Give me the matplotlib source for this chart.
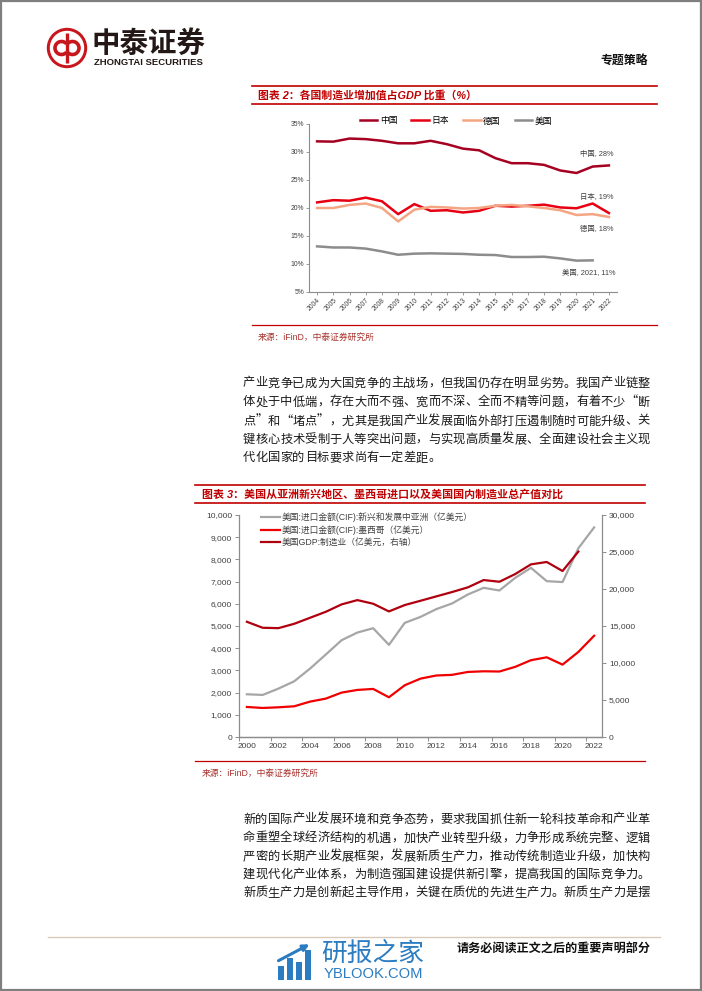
"""
plot.py
Recreates a Zhongtai Securities report page with two line charts
(manufacturing share of GDP; US imports vs. US manufacturing GDP).

Output: out.png (702x991)
"""

import numpy as np
import matplotlib
matplotlib.use("Agg")
import matplotlib.pyplot as plt
from matplotlib.patches import Circle, Rectangle, Arc
from matplotlib.ticker import FuncFormatter, FixedLocator

plt.rcParams["font.family"] = ["Liberation Sans", "Noto Sans CJK SC"]
plt.rcParams["axes.unicode_minus"] = False

W, H = 702, 991
CJK = ["Noto Sans CJK SC", "DejaVu Sans"]

# ---------------------------------------------------------------------------
# Chart 2 data: manufacturing value added, % of GDP
# ---------------------------------------------------------------------------
YEARS_1 = ["2004", "2005", "2006", "2007", "2008", "2009", "2010", "2011", "2012",
           "2013", "2014", "2015", "2016", "2017", "2018", "2019", "2020", "2021", "2022"]
CHINA = [31.9, 31.85, 32.4, 32.3, 32.0, 31.55, 31.55, 32.0, 31.4, 30.6,
         30.3, 28.9, 28.0, 28.0, 27.7, 26.7, 26.25, 27.4, 27.6]
JAPAN = [21.0, 21.4, 21.3, 21.85, 21.2, 18.9, 20.7, 19.5, 19.6, 19.2,
         19.5, 20.4, 20.25, 20.4, 20.6, 20.1, 19.95, 20.8, 19.1]
GERMANY = [20.0, 20.0, 20.55, 20.8, 20.0, 17.6, 19.7, 20.2, 20.1, 19.9,
           20.0, 20.4, 20.55, 20.3, 20.0, 19.6, 18.75, 18.9, 18.4]
USA = [13.15, 12.95, 12.95, 12.75, 12.25, 11.65, 11.85, 11.9, 11.85, 11.8,
       11.65, 11.6, 11.25, 11.25, 11.3, 11.0, 10.6, 10.65, np.nan]
Y_TICKS_1 = [5, 10, 15, 20, 25, 30, 35]

# ---------------------------------------------------------------------------
# Chart 3 data: US imports (left axis) and US manufacturing GDP (right axis)
# ---------------------------------------------------------------------------
YEARS_3 = ["2000", "2001", "2002", "2003", "2004", "2005", "2006", "2007", "2008",
           "2009", "2010", "2011", "2012", "2013", "2014", "2015", "2016", "2017",
           "2018", "2019", "2020", "2021", "2022"]
ASIA_IMPORTS = [1925, 1895, 2180, 2510, 3080, 3715, 4360, 4705, 4900, 4150, 5140, 5410,
                5760, 6015, 6420, 6720, 6600, 7170, 7620, 7020, 6980, 8500, 9440]
MEXICO_IMPORTS = [1353, 1308, 1338, 1383, 1594, 1729, 2000, 2120, 2165, 1790, 2330, 2630,
                  2770, 2800, 2930, 2960, 2950, 3160, 3460, 3590, 3260, 3830, 4560]
US_MFG_GDP = [15570, 14760, 14710, 15300, 16110, 16920, 17920, 18500, 18010, 16970,
              17830, 18410, 19000, 19590, 20220, 21210, 20980, 22020, 23330, 23650,
              22430, 25050, np.nan]
LEFT_TICKS_3 = [0, 1000, 2000, 3000, 4000, 5000, 6000, 7000, 8000, 9000, 10000]
RIGHT_TICKS_3 = [0, 5000, 10000, 15000, 20000, 25000, 30000]

PARA_1 = [
    "产业竞争已成为大国竞争的主战场，但我国仍存在明显劣势。我国产业链整",
    "体处于中低端，存在大而不强、宽而不深、全而不精等问题，有着不少“断",
    "点”和“堵点”，尤其是我国产业发展面临外部打压遏制随时可能升级、关",
    "键核心技术受制于人等突出问题，与实现高质量发展、全面建设社会主义现",
    "代化国家的目标要求尚有一定差距。",
]
PARA_2 = [
    "新的国际产业发展环境和竞争态势，要求我国抓住新一轮科技革命和产业革",
    "命重塑全球经济结构的机遇，加快产业转型升级，力争形成系统完整、逻辑",
    "严密的长期产业发展框架，发展新质生产力，推动传统制造业升级，加快构",
    "建现代化产业体系，为制造强国建设提供新引擎，提高我国的国际竞争力。",
    "新质生产力是创新起主导作用，关键在质优的先进生产力。新质生产力是摆",
]

RED = "#C00000"
SRC_RED = "#A8322D"
GRAY_AX = "#8C8C8C"
TICK_TXT = "#404040"


def fx(px):
    return px / W


def fy(py):
    return 1 - py / H


def draw_paragraph(ax, lines, x0, x1, ys, size):
    pitch = (x1 - x0) / 33
    for line, y in zip(lines, ys):
        for i, ch in enumerate(line):
            ax.text(x0 + (i + 0.5) * pitch, y, ch, ha="center", va="center",
                    fontsize=size, family=CJK, color="#1a1a1a")


def draw_page(ax):
    ax.set_xlim(0, W)
    ax.set_ylim(H, 0)
    ax.axis("off")

    # page frame
    ax.add_patch(Rectangle((0.5, 0.5), W - 1.5, H - 1.5, fill=False, ec="#7f7f7f", lw=1.6))

    # --- header logo ---
    ax.add_patch(Circle((67, 48), 19.5, color="#C8161D"))
    ax.add_patch(Circle((67, 48), 16.5, color="white"))
    ax.add_patch(Arc((61.5, 48), 13, 13, theta1=40, theta2=320, color="#C8161D", lw=2.6))
    ax.add_patch(Arc((72.5, 48), 13, 13, theta1=220, theta2=140, color="#C8161D", lw=2.6))
    ax.plot([67, 67], [33, 63], color="#C8161D", lw=2.4, solid_capstyle="butt")
    ax.text(92, 44, "中泰证券", fontsize=20.5, fontweight="bold", family=CJK,
            color="#231815", ha="left", va="center")
    ax.text(94, 62.5, "ZHONGTAI SECURITIES", fontsize=6.8, fontweight="bold",
            family=["Liberation Sans"], color="#231815", ha="left", va="center")
    ax.text(600, 60, "专题策略", fontsize=8.6, fontweight="bold", family=CJK,
            color="#111111", ha="left", va="center")

    # --- chart 2 frame ---
    for y in (86, 104):
        ax.plot([252, 657], [y, y], color=RED, lw=1.2)
    ax.text(258, 95, "图表 2：各国制造业增加值占GDP 比重（%）", fontsize=7.8,
            fontweight="bold", style="italic", color=RED, ha="left", va="center")
    ax.plot([252, 657], [325, 325], color=RED, lw=0.9)
    ax.text(258, 337, "来源：iFinD，中泰证券研究所", fontsize=6.3, color=SRC_RED,
            ha="left", va="center")

    draw_paragraph(ax, PARA_1, 243, 650, [383, 402, 421, 439.5, 457.5], 8.8)

    # --- chart 3 frame ---
    for y in (484.5, 503):
        ax.plot([195, 645], [y, y], color=RED, lw=1.2)
    ax.text(202, 494, "图表 3：美国从亚洲新兴地区、墨西哥进口以及美国国内制造业总产值对比",
            fontsize=7.9, fontweight="bold", style="italic", color=RED,
            ha="left", va="center")
    ax.plot([195, 645], [761, 761], color=RED, lw=0.9)
    ax.text(202, 773, "来源：iFinD，中泰证券研究所", fontsize=6.3, color=SRC_RED,
            ha="left", va="center")

    draw_paragraph(ax, PARA_2, 243, 650, [819, 838, 856.5, 874.5, 892.5], 8.8)

    # --- footer ---
    ax.plot([48, 660], [937, 937], color="#D9C9B8", lw=1.0)
    ax.text(457, 949, "请务必阅读正文之后的重要声明部分", fontsize=8.7, fontweight="bold",
            family=CJK, color="#111111", ha="left", va="center")

    # watermark
    blue = "#2B7CC1"
    for bx, top in [(278, 966), (287, 958), (296, 962), (305, 950)]:
        ax.add_patch(Rectangle((bx, top), 6, 980 - top, color=blue, lw=0))
    ax.annotate("", xy=(312, 943), xytext=(276, 962),
                arrowprops=dict(arrowstyle="-|>", color=blue, lw=2.2, mutation_scale=9))
    ax.text(321, 954, "研报之家", fontsize=18.5, family=CJK, color=blue,
            ha="left", va="center")
    ax.text(324, 974, "YBLOOK.COM", fontsize=10.6, family=["Liberation Sans"],
            color=blue, ha="left", va="center")


def plot_share_chart(fig):
    left, right, top, bottom = 309, 617, 124, 292
    ax = fig.add_axes([fx(left), fy(bottom), fx(right - left), (bottom - top) / H])
    x = np.arange(len(YEARS_1))
    ax.plot(x, CHINA, color="#A50021", lw=1.8, label="中国")
    ax.plot(x, JAPAN, color="#E60012", lw=1.8, label="日本")
    ax.plot(x, GERMANY, color="#F4A582", lw=1.8, label="德国")
    ax.plot(x, USA, color="#8C8C8C", lw=1.8, label="美国")

    ax.set_xlim(-0.5, len(YEARS_1) - 0.5)
    ax.set_ylim(5, 35)
    ax.set_yticks(Y_TICKS_1)
    ax.set_yticklabels([f"{v}%" for v in Y_TICKS_1], fontsize=4.9, color=TICK_TXT)
    ax.set_xticks(x)
    ax.set_xticklabels(YEARS_1, rotation=45, ha="right", rotation_mode="anchor",
                       fontsize=4.9, color=TICK_TXT)
    for side in ("top", "right"):
        ax.spines[side].set_visible(False)
    for side in ("left", "bottom"):
        ax.spines[side].set_color(GRAY_AX)
        ax.spines[side].set_linewidth(0.8)
    ax.tick_params(axis="both", direction="out", length=2, width=0.6, color=GRAY_AX, pad=1.5)
    ax.patch.set_alpha(0)

    notes = [("中国, 28%", 29.6), ("日本, 19%", 21.8), ("德国, 18%", 16.2)]
    for txt, yv in notes:
        ax.text(18.3, yv, txt, fontsize=5.3, color="#404040", ha="right", va="center")
    ax.text(18.4, 8.4, "美国, 2021, 11%", fontsize=5.3, color="#404040",
            ha="right", va="center")

    fig.legend(*ax.get_legend_handles_labels(), loc="center",
               bbox_to_anchor=(fx(456), fy(121)), ncol=4, frameon=False,
               handlelength=2.0, handletextpad=0.3, columnspacing=1.6,
               borderpad=0, prop={"family": CJK, "size": 6.3})


def plot_import_chart(fig):
    left, right, top, bottom = 239, 602, 515, 737
    ax = fig.add_axes([fx(left), fy(bottom), fx(right - left), (bottom - top) / H])
    ax2 = ax.twinx()
    x = np.arange(len(YEARS_3))

    l1, = ax.plot(x, ASIA_IMPORTS, color="#A6A6A6", lw=1.6,
                  label="美国:进口金额(CIF):新兴和发展中亚洲（亿美元）")
    l2, = ax.plot(x, MEXICO_IMPORTS, color="#F00000", lw=1.6,
                  label="美国:进口金额(CIF):墨西哥（亿美元）")
    l3, = ax2.plot(x, US_MFG_GDP, color="#B0000F", lw=1.6,
                   label="美国GDP:制造业（亿美元，右轴）")

    ax.set_xlim(-0.5, len(YEARS_3) - 0.5)
    ax.set_ylim(0, 10000)
    ax2.set_ylim(0, 30000)
    comma = FuncFormatter(lambda v, _: f"{int(v):,}")
    ax.set_yticks(LEFT_TICKS_3)
    ax.yaxis.set_major_formatter(comma)
    ax2.set_yticks(RIGHT_TICKS_3)
    ax2.yaxis.set_major_formatter(comma)

    # tick marks between categories every two years, labels on even years
    ax.xaxis.set_major_locator(FixedLocator(np.arange(-0.5, len(YEARS_3), 2)))
    ax.xaxis.set_major_formatter(FuncFormatter(lambda v, _: ""))
    ax.xaxis.set_minor_locator(FixedLocator(x[::2]))
    ax.set_xticklabels(YEARS_3[::2], minor=True)
    ax.tick_params(axis="x", which="minor", length=0, labelsize=6, colors=TICK_TXT, pad=4)

    for a in (ax, ax2):
        a.spines["top"].set_visible(False)
        for s in ("left", "right", "bottom"):
            a.spines[s].set_color(GRAY_AX)
            a.spines[s].set_linewidth(0.9)
        a.tick_params(axis="both", which="major", direction="out", length=3,
                      width=0.7, color=GRAY_AX, labelsize=6, labelcolor=TICK_TXT, pad=2)
    ax.spines["right"].set_visible(False)
    ax2.spines["left"].set_visible(False)
    ax.patch.set_alpha(0)

    fig.legend(handles=[l1, l2, l3], loc="upper left",
               bbox_to_anchor=(fx(261), fy(512)), frameon=False,
               prop={"family": ["Liberation Sans", "Noto Sans CJK SC"], "size": 6.3},
               handlelength=2.2, handletextpad=0.2, labelspacing=0.4,
               borderpad=0, borderaxespad=0, labelcolor="#404040")


def main():
    fig = plt.figure(figsize=(W / 100, H / 100), dpi=100)
    fig.patch.set_facecolor("white")
    page = fig.add_axes([0, 0, 1, 1])
    draw_page(page)
    plot_share_chart(fig)
    plot_import_chart(fig)
    fig.savefig("out.png", dpi=100)
    plt.close(fig)


if __name__ == "__main__":
    main()
